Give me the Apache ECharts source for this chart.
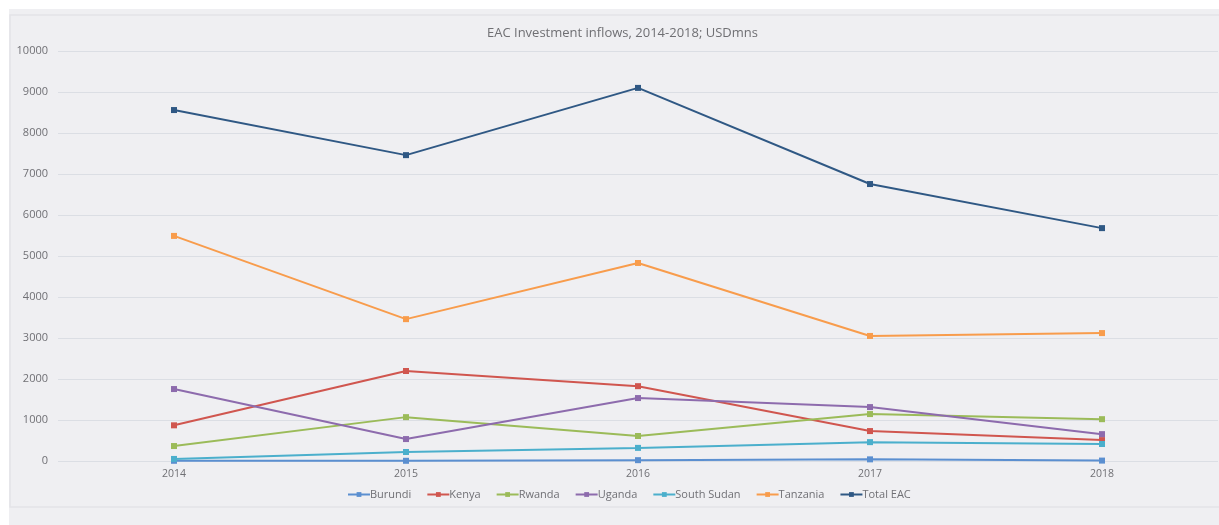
<!DOCTYPE html>
<html><head><meta charset="utf-8">
<script src="https://cdn.jsdelivr.net/npm/echarts@6/dist/echarts.min.js"></script>
<style>html,body{margin:0;padding:0;background:#fff;}#c{width:1219px;height:525px;}</style>
</head><body><div id="c"></div>
<script>
const years = ['2014','2015','2016','2017','2018'];
const burundi = [5, 5, 20, 40, 10];
const kenya = [870, 2195, 1825, 730, 510];
const rwanda = [365, 1070, 610, 1145, 1020];
const uganda = [1755, 535, 1535, 1315, 655];
const southSudan = [50, 220, 320, 460, 415];
const tanzania = [5490, 3460, 4830, 3050, 3120];
const totalEAC = [8560, 7460, 9100, 6755, 5680];

const names = ['Burundi','Kenya','Rwanda','Uganda','South Sudan','Tanzania','Total EAC'];
const colors = ['#5b8fd0','#d0564f','#9bbb59','#8d6bad','#4bafcc','#f89c4c','#2f5884'];
const datasets = [burundi,kenya,rwanda,uganda,southSudan,tanzania,totalEAC];
const FONT = '"Open Sans", Lato, sans-serif';

const chart = echarts.init(document.getElementById('c'));
chart.setOption({
  backgroundColor: '#ffffff',
  animation: false,
  textStyle: {fontFamily: FONT},
  graphic: [
    {type:'rect', silent:true, z:-10, shape:{x:9,y:9,width:1210,height:516}, style:{fill:'#efeff2'}},
    {type:'rect', silent:true, z:-9, shape:{x:10,y:15,width:1215,height:492}, style:{fill:'#efeff2', stroke:'#e4e4e7', lineWidth:1.5}}
  ],
  title: {text:'EAC Investment inflows, 2014-2018; USDmns', left:482, top:22,
    textStyle:{fontSize:13, fontWeight:'normal', color:'#6f6f73', fontFamily:FONT}},
  legend: {bottom:20, left:342, itemWidth:22, itemHeight:6, itemGap:15,
    textStyle:{fontSize:11, color:'#707075', padding:[0,0,0,-5], fontFamily:FONT}, data:names},
  grid: {left:58, right:1, top:51, bottom:64, containLabel:false},
  xAxis: {type:'category', data:years, boundaryGap:true,
    axisLine:{show:false}, axisTick:{show:false},
    axisLabel:{color:'#707075', fontSize:10.5, margin:8, fontFamily:FONT}},
  yAxis: {type:'value', min:0, max:10000, interval:1000,
    axisLine:{show:false}, axisTick:{show:false},
    axisLabel:{color:'#707075', fontSize:11, margin:10, fontFamily:FONT, formatter:(v)=>String(v)}},
  series: names.map((n,i)=>({
    name:n, type:'line', data:datasets[i], symbol:'rect', symbolSize:6,
    lineStyle:{color:colors[i], width:2}, itemStyle:{color:colors[i]}, z: 2+i
  }))
});
</script></body></html>
